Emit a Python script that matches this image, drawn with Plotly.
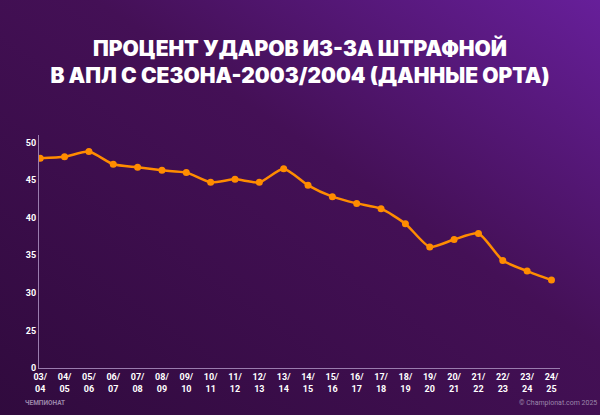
import base64
import plotly.graph_objects as go

seasons = ["03/<br>04", "04/<br>05", "05/<br>06", "06/<br>07", "07/<br>08", "08/<br>09",
           "09/<br>10", "10/<br>11", "11/<br>12", "12/<br>13", "13/<br>14", "14/<br>15",
           "15/<br>16", "16/<br>17", "17/<br>18", "18/<br>19", "19/<br>20", "20/<br>21",
           "21/<br>22", "22/<br>23", "23/<br>24", "24/<br>25"]
share = [47.9, 48.1, 48.8, 47.1, 46.7, 46.3, 46.0, 44.7, 45.1, 44.7, 46.5,
         44.3, 42.8, 41.9, 41.2, 39.2, 36.1, 37.1, 37.9, 34.3, 32.9, 31.7]
tick_vals = [20, 25, 30, 35, 40, 45, 50]
tick_text = ["0", "25", "30", "35", "40", "45", "50"]

# background gradient as svg
svg = ('<svg xmlns="http://www.w3.org/2000/svg" width="600" height="415" preserveAspectRatio="none">'
       '<defs><linearGradient id="g" x1="0" y1="1" x2="1" y2="0">'
       '<stop offset="0" stop-color="#2f0a3c"/><stop offset="0.55" stop-color="#441056"/>'
       '<stop offset="1" stop-color="#6e22a8"/></linearGradient></defs>'
       '<rect width="600" height="415" fill="url(#g)"/></svg>')
bg = "data:image/svg+xml;base64," + base64.b64encode(svg.encode()).decode()

fig = go.Figure()
fig.add_trace(go.Scatter(
    x=list(range(len(seasons))), y=share, mode="lines+markers",
    line=dict(color="#ff8c00", width=2.5, shape="spline", smoothing=0.6),
    marker=dict(color="#ff8c00", size=7),
))

fig.update_layout(
    width=600, height=415,
    paper_bgcolor="#3a0c4c", plot_bgcolor="rgba(0,0,0,0)",
    margin=dict(l=39, r=40, t=135, b=47),
    showlegend=False,
    font=dict(family="Roboto", color="white", size=9),
    images=[dict(source=bg, xref="paper", yref="paper", x=-0.1, y=1.7,
                 sizex=1.3, sizey=2.0, sizing="stretch", layer="below",
                 xanchor="left", yanchor="top")],
    title=dict(text="ПРОЦЕНТ УДАРОВ ИЗ-ЗА ШТРАФНОЙ<br>В АПЛ С СЕЗОНА-2003/2004 (ДАННЫЕ OPTA)",
               x=0.5, xanchor="center", y=0.866, yanchor="middle",
               font=dict(family="Inter", size=21, color="white", weight=900)),
    xaxis=dict(tickvals=list(range(len(seasons))), ticktext=seasons, automargin=False,
               range=[-0.05, 21.35], showgrid=False, zeroline=False,
               showline=True, linecolor="#9a7cae", linewidth=1,
               tickfont=dict(size=9, color="white", weight="bold"), ticks=""),
    yaxis=dict(range=[20, 51], tickvals=tick_vals, ticktext=tick_text, automargin=False,
               showgrid=False, zeroline=False, showline=True,
               linecolor="#9a7cae", linewidth=1, ticks="",
               tickfont=dict(size=9, color="white", weight="bold")),
    annotations=[
        dict(text="<b>ЧЕМПИОНАТ</b>", xref="paper", yref="paper", x=-0.03, y=-0.175,
             xanchor="left", showarrow=False, font=dict(size=6.5, color="#9b86aa")),
        dict(text="© Championat.com 2025", xref="paper", yref="paper", x=1.075, y=-0.175,
             xanchor="right", showarrow=False, font=dict(size=7, color="#9b86aa")),
    ],
)
fig.write_html("out.html", config={"displayModeBar": False},
               post_script="document.body.style.margin='0';")
